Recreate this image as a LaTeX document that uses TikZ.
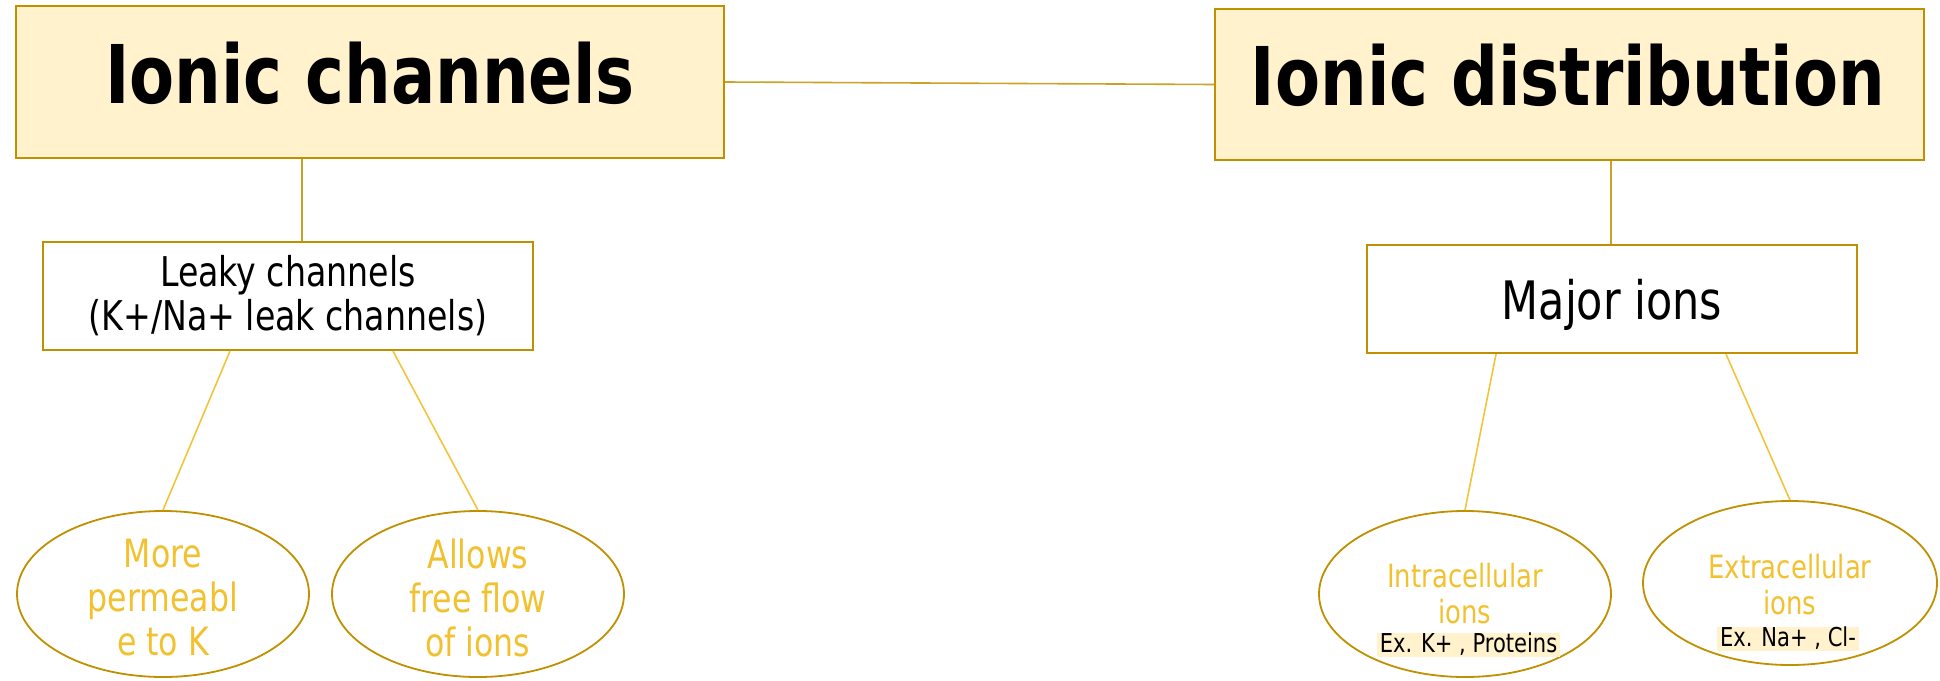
\documentclass[tikz,border=0pt]{standalone}
\usepackage{fontspec}
\setmainfont{DejaVuSansCondensed.ttf}[BoldFont=DejaVuSansCondensed-Bold.ttf, FakeStretch=0.9]
\usetikzlibrary{shapes.geometric}
\definecolor{boxfill}{HTML}{FFF2CC}
\definecolor{boxline}{HTML}{BF9000}
\definecolor{linkline}{HTML}{C9A227}
\definecolor{leafline}{HTML}{F2C43C}
\definecolor{leaftext}{HTML}{F2C130}
\tikzset{
  topbox/.style={draw=boxline, line width=2.2pt, fill=boxfill, inner sep=0pt},
  toptext/.style={inner sep=0pt, font=\bfseries\fontsize{81}{88}\selectfont},
  midbox/.style={draw=boxline, line width=2.2pt, fill=white, inner sep=0pt,
    minimum width=490pt, minimum height=108pt, align=center},
  leafell/.style={ellipse, draw=boxline, line width=1.8pt, inner sep=0pt,
    minimum width=292pt, minimum height=166pt},
  leafbig/.style={inner sep=0pt, align=center, text=leaftext,
    font=\fontsize{39}{44}\selectfont},
  leafsmall/.style={inner sep=0pt, align=center, text=leaftext,
    font=\fontsize{32}{36}\selectfont},
  example/.style={fill=boxfill, inner xsep=3pt, inner ysep=0pt,
    text height=19pt, text depth=5pt, font=\fontsize{26}{30}\selectfont},
  link/.style={draw=linkline, line width=1.6pt},
  leaf/.style={draw=leafline, line width=1.6pt}
}
\begin{document}
\begin{tikzpicture}[x=1pt,y=-1pt]
\useasboundingbox (0,0) rectangle (1940,680);

% top level boxes
\node[topbox, minimum width=708pt, minimum height=152pt] (chan) at (370,82) {};
\node[toptext] (chant) at (370,73) {Ionic channels};
\node[topbox, minimum width=709pt, minimum height=151pt] (dist) at (1569.5,84.5) {};
\node[toptext] (distt) at (1568,75) {Ionic distribution};

% second level boxes
\node[midbox, font=\fontsize{41}{44}\selectfont] (leaky) at (288,296)
  {Leaky channels\\(K+/Na+ leak channels)};
\node[midbox, text depth=0pt, font=\fontsize{53}{58}\selectfont] (major) at (1612,299) {Major ions};

% leaves
\node[leafell] (more) at (163,594) {};
\node[leafbig] (moret) at (163,598) {More\\permeabl\\e to K};
\node[leafell] (allow) at (478,594) {};
\node[leafbig] (allowt) at (478,598) {Allows\\free flow\\of ions};
\node[leafell] (intra) at (1465,594) {};
\node[leafsmall] (intrat) at (1465,594) {Intracellular\\ions};
\node[example] (intrax) at (1468.5,645) {Ex. K+ , Proteins};
\node[leafell, minimum width=294pt, minimum height=164pt] (extra) at (1790,583) {};
\node[leafsmall] (extrat) at (1790,585) {Extracellular\\ions};
\node[example] (extrax) at (1788,639) {Ex. Na+ , Cl-};

% attachment points along box edges
\coordinate (xa) at (302,0);
\coordinate (xb) at (1611,0);
\coordinate (xc) at (230,0);
\coordinate (xd) at (393,0);
\coordinate (xe) at (1496,0);
\coordinate (xf) at (1726,0);

% connectors
\draw[link] (chan.east) -- (dist.west);
\draw[link] (chan.south -| xa) -- (leaky.north -| xa);
\draw[link] (dist.south -| xb) -- (major.north -| xb);
\draw[leaf] (leaky.south -| xc) -- (more.north);
\draw[leaf] (leaky.south -| xd) -- (allow.north);
\draw[leaf] (major.south -| xe) -- (intra.north);
\draw[leaf] (major.south -| xf) -- (extra.north);
\end{tikzpicture}
\end{document}
